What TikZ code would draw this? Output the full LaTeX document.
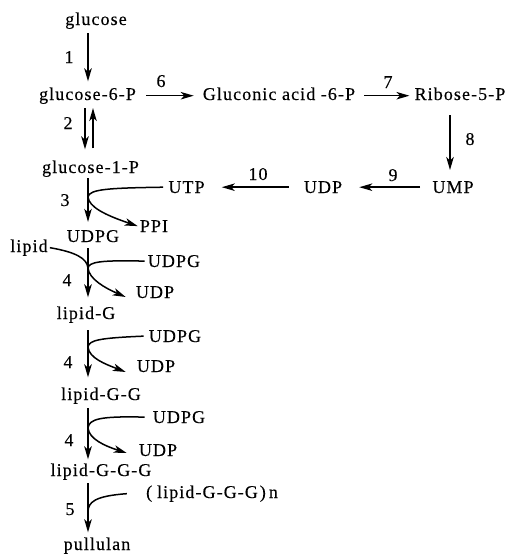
\documentclass[tikz,border=0pt]{standalone}
\usepackage{fontspec}
\setmainfont{Liberation Serif}[LetterSpace=6,FakeBold=0.3]
\usetikzlibrary{arrows.meta}
\begin{document}
\begin{tikzpicture}[x=1pt,y=-1pt,
  every node/.style={inner sep=0pt, anchor=base, font=\fontsize{18}{20}\selectfont},
  ln/.style={line width=1.5pt},
  arr/.style={line width=1.5pt, -{Stealth[length=13pt,width=7.5pt,inset=3.5pt]}}]
\useasboundingbox (0,0) rectangle (511,555);
% axes
\coordinate (ax) at (88,0);
\coordinate (axd) at (85,0);
\coordinate (axu) at (93,0);
\coordinate (axe) at (450,0);
% nodes
\node (glc) at (96,25) {glucose};
\node (g6p) at (87.5,100) {glucose-6-P};
\node (gla) at (279,100) {Gluconic acid -6-P};
\node (rib) at (460,100) {Ribose-5-P};
\node (ump) at (453,193) {UMP};
\node (udp0) at (323,193) {UDP};
\node (utp) at (186.5,193) {UTP};
\node (g1p) at (90.5,173) {glucose-1-P};
\node (ppi) at (154,232) {PPI};
\node (udpg) at (93,242) {UDPG};
\node (lipid) at (29,252) {lipid};
\node (udpga) at (174,267) {UDPG};
\node (udpa) at (155,298) {UDP};
\node (lg) at (86,319) {lipid-G};
\node (udpgb) at (175,342) {UDPG};
\node (udpb) at (156,372) {UDP};
\node (lgg) at (101,400) {lipid-G-G};
\node (udpgc) at (179,423) {UDPG};
\node (udpc) at (158,456) {UDP};
\node (lggg) at (101,476) {lipid-G-G-G};
\node (lgn) at (212,498) {(\hspace{5pt}lipid-G-G-G\hspace{2pt})\hspace{3pt}n};
\node (pul) at (97,550) {pullulan};
% labels
\node (n1) at (69,63) {1};
\node (n6) at (161,87) {6};
\node (n2) at (68,129) {2};
\node (n7) at (388,88) {7};
\node (n8) at (470,145) {8};
\node (n9) at (393,181) {9};
\node (n10) at (258,180) {10};
\node (n3) at (65,206) {3};
\node (n4a) at (67,286) {4};
\node (n4b) at (68,368) {4};
\node (n4c) at (69,446) {4};
\node (n5) at (70,515) {5};
% junctions
\coordinate (j3) at (88,197);
\coordinate (j4a) at (88,268);
\coordinate (j4b) at (88,347);
\coordinate (j4c) at (88,428);
\coordinate (j5) at (88,512);
% vertical arrows
\draw[arr, shorten <=4pt, shorten >=6pt] (ax |- glc.south) -- (ax |- g6p.north);
\draw[arr, shorten <=4pt, shorten >=11pt] (axd |- g6p.south) -- (axd |- g1p.north);
\draw[arr, shorten <=12pt, shorten >=4pt] (axu |- g1p.north) -- (axu |- g6p.south);
\draw[arr, shorten <=1pt, shorten >=8pt] (ax |- g1p.south) -- (ax |- udpg.north);
\draw[arr, shorten <=6pt, shorten >=9pt] (ax |- udpg.south) -- (ax |- lg.north);
\draw[arr, shorten <=7pt, shorten >=10pt] (ax |- lg.south) -- (ax |- lgg.north);
\draw[arr, shorten <=4pt, shorten >=4pt] (ax |- lgg.south) -- (ax |- lggg.north);
\draw[arr, shorten <=3pt, shorten >=5pt] (ax |- lggg.south) -- (ax |- pul.north);
% horizontal arrows
\draw[arr, shorten <=10pt, shorten >=9pt] (g6p.east) -- (gla.west |- g6p.east);
\draw[arr, shorten <=9pt, shorten >=5pt] (gla.east |- g6p.east) -- (rib.west |- g6p.east);
\draw[arr, shorten <=15pt, shorten >=11pt] (axe |- rib.south) -- (axe |- ump.north);
\draw[arr, shorten <=12pt, shorten >=17pt] (ump.west) -- (udp0.east |- ump.west);
\draw[arr, shorten <=15pt, shorten >=17pt] (udp0.west |- ump.west) -- (utp.east |- ump.west);
% step 3
\draw[ln] ([xshift=-5pt]utp.west) .. controls (110,188) and (89,189) .. (j3);
\draw[arr] (j3) .. controls (89,207) and (105,215) .. ([xshift=-2pt]ppi.west);
% step 4a
\draw[ln] ([xshift=2pt]lipid.east) .. controls (75,252) and (87,258) .. (j4a);
\draw[ln] ([xshift=-3pt]udpga.west) .. controls (100,260) and (89,262) .. (j4a);
\draw[arr] (j4a) .. controls (89,279) and (105,288) .. ([shift={(-10,-1)}]udpa.base west);
% step 4b
\draw[ln] ([xshift=-5pt]udpgb.west) .. controls (100,338) and (89,340) .. (j4b);
\draw[arr] (j4b) .. controls (89,358) and (105,364) .. ([shift={(-11,0)}]udpb.base west);
% step 4c
\draw[ln] ([xshift=-8pt]udpgc.west) .. controls (100,416) and (89,419) .. (j4c);
\draw[arr] (j4c) .. controls (89,439) and (105,446) .. ([shift={(-12,-3)}]udpc.base west);
% step 5
\draw[ln] ([xshift=-19pt]lgn.west) .. controls (95,496) and (88,502) .. (j5);
\end{tikzpicture}
\end{document}
